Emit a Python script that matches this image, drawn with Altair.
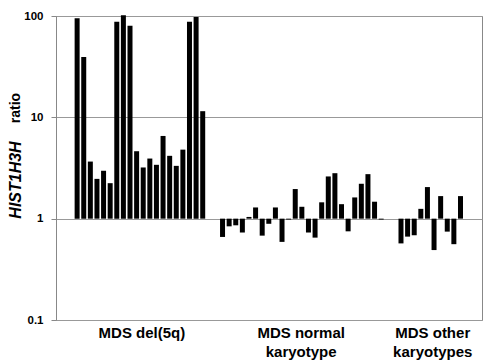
import altair as alt
import pandas as pd

# ---- data ----
del5q = [95, 39.5, 3.66, 2.47, 2.97, 2.24, 88, 102, 80, 4.63,
         3.2, 3.92, 3.4, 6.55, 4.17, 3.32, 4.8, 88, 98, 11.5]
normal = [0.66, 0.84, 0.86, 0.73, 1.04, 1.29, 0.68, 0.89, 1.29, 0.59,
          0.98, 1.96, 1.31, 0.73, 0.65, 1.45, 2.61, 2.81, 1.39, 0.75,
          1.62, 2.21, 2.75, 1.47, 0.98]
other = [0.57, 0.665, 0.686, 1.25, 2.05, 0.49, 1.67, 0.745, 0.56, 1.67]
group_names = ["MDS del(5q)", "MDS normal\nkaryotype", "MDS other\nkaryotypes"]
group_label_pos = [9.8, 33.9, 53.8]
y_ticks = [0.1, 1, 10, 100]
title_parts = ["HIST1H3H", "ratio"]

GAP = 2  # empty slots between groups
rows = []
slot = 0
for gname, vals in zip(group_names, [del5q, normal, other]):
    for v in vals:
        rows.append({"slot": slot, "ratio": v, "group": gname})
        slot += 1
    slot += GAP
df = pd.DataFrame(rows)
labels_df = pd.DataFrame({"pos": group_label_pos, "label": group_names})

FONT = "Liberation Sans"
W, H = 426, 304
x_scale = alt.Scale(domain=[-2.44, 60.5], nice=False, zero=False)
y_scale = alt.Scale(type="log", domain=[0.1, 100], nice=False)

bars = alt.Chart(df).mark_bar(color="black", size=5).encode(
    x=alt.X("slot:Q", scale=x_scale, axis=None),
    y=alt.Y("ratio:Q", scale=y_scale,
            axis=alt.Axis(values=y_ticks, format="~g", title=None, grid=True,
                          gridColor="#999999", gridWidth=1,
                          domainColor="#888888", tickColor="#888888",
                          tickSize=5, labelFont=FONT, labelFontWeight="bold",
                          labelFontSize=11.5, labelPadding=8, labelColor="black")),
    y2=alt.datum(1),
)

group_text = alt.Chart(labels_df).mark_text(
    font=FONT, fontWeight="bold", fontSize=15, lineBreak="\n",
    baseline="top", lineHeight=19, color="black"
).encode(
    x=alt.X("pos:Q", scale=x_scale),
    y=alt.value(H + 6),
    text="label:N",
)

t1 = alt.Chart(pd.DataFrame({"t": [title_parts[0]]})).mark_text(
    font=FONT, fontWeight="bold", fontStyle="italic", fontSize=16,
    angle=270, color="black", baseline="middle"
).encode(x=alt.value(-40), y=alt.value(164), text="t:N")

t2 = alt.Chart(pd.DataFrame({"t": [title_parts[1]]})).mark_text(
    font=FONT, fontWeight="bold", fontSize=14,
    angle=270, color="black", baseline="middle"
).encode(x=alt.value(-40), y=alt.value(92), text="t:N")

chart = alt.layer(bars, group_text, t1, t2).properties(
    width=W, height=H,
    autosize=alt.AutoSizeParams(type="none"),
    padding={"left": 56, "top": 16, "right": 2, "bottom": 40},
    background="white",
).configure_view(stroke="#888888", strokeWidth=1)

chart.save("out.html", embed_options={"renderer": "svg", "actions": False})
